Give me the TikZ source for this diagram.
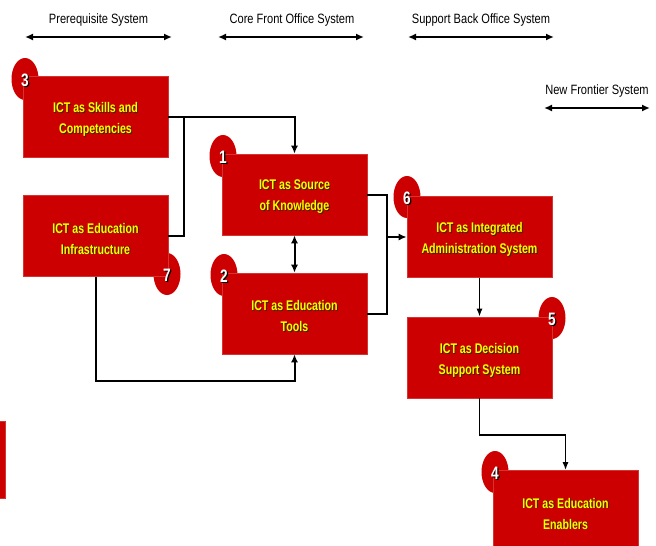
\documentclass[tikz,border=0pt]{standalone}
\usepackage{fontspec}
\setmainfont{Liberation Sans}[FakeStretch=0.82]
\newfontfamily\narrowf{Liberation Sans}[FakeStretch=0.76]
\usetikzlibrary{arrows.meta,shapes.geometric}
\definecolor{boxred}{HTML}{CC0000}
\definecolor{txtyellow}{HTML}{FFFF00}
\definecolor{shadowc}{HTML}{3A2600}
\newcommand\ictbox[5]{%
  \node[badge] (#1n) at (#4) {};
  \node[boxst] (#1) at (#2) {};
  \node[btxt,text=shadowc] at ([shift={(0.9,3.4)}]#1.center) {#3};
  \node[btxt,text=txtyellow] (#1t) at ([shift={(0,2.5)}]#1.center) {#3};
  \node[ntxt,text=black] at ([shift={(1.2,2.2)}]#1n.center) {#5};
  \node[ntxt,text=white] (#1num) at ([shift={(0,1)}]#1n.center) {#5};
}
\begin{document}
\begin{tikzpicture}[x=1pt,y=-1pt,
  boxst/.style={rectangle, fill=boxred, draw=boxred!80!white, line width=0.6pt,
    minimum width=145pt, minimum height=81pt, inner sep=0pt},
  badge/.style={ellipse, fill=boxred, draw=none, minimum width=27pt, minimum height=42pt, inner sep=0pt},
  btxt/.style={align=center, font=\narrowf\fontsize{14}{21}\selectfont\bfseries, inner sep=0pt},
  ntxt/.style={font=\narrowf\fontsize{18}{18}\selectfont\bfseries, inner sep=0pt},
  htxt/.style={font=\fontsize{13.5}{16}\selectfont, inner sep=0pt, text=black},
  harrow/.style={line width=2pt, {Latex[length=8pt,width=7pt]}-{Latex[length=8pt,width=7pt]}},
  conn/.style={line width=2pt},
  carrow/.style={line width=2pt, -{Latex[length=8pt,width=7pt]}},
  tarrow/.style={line width=1.5pt, -{Latex[length=8pt,width=6pt]}}
]
\useasboundingbox (0,0) rectangle (656,546);
\clip (0,0) rectangle (656,546);
\fill[white] (0,0) rectangle (656,546);

% header labels and ranges
\node[htxt] (h1) at (98.5,20.5) {Prerequisite System};
\node[htxt] (h2) at (292,20.5) {Core Front Office System};
\node[htxt] (h3) at (481,20.5) {Support Back Office System};
\node[htxt] (h4) at (597,91.5) {New Frontier System};
\coordinate (h1a) at (25,37);  \coordinate (h1b) at (172,37);
\coordinate (h2a) at (218,37); \coordinate (h2b) at (364,37);
\coordinate (h3a) at (408,37); \coordinate (h3b) at (554,37);
\coordinate (h4a) at (544,108); \coordinate (h4b) at (650,108);
\draw[harrow] (h1a) -- (h1b);
\draw[harrow] (h2a) -- (h2b);
\draw[harrow] (h3a) -- (h3b);
\draw[harrow] (h4a) -- (h4b);

% partial box at the left edge
\fill[boxred] (-20,421) rectangle (5,498);
\draw[boxred!80!white, line width=0.6pt] (-20,421) rectangle (5,498);

% boxes
\ictbox{b3}{95.5,117}{ICT as Skills and\\Competencies}{25,79}{3}
\ictbox{b1}{294.5,194.5}{ICT as Source\\of Knowledge}{223,156}{1}
\ictbox{b7}{95.5,236}{ICT as Education\\Infrastructure}{167,274}{7}
\ictbox{b2}{294.5,313.5}{ICT as Education\\Tools}{224,275}{2}
\ictbox{b6}{479.5,237}{ICT as Integrated\\Administration System}{407,197}{6}
\ictbox{b5}{479.5,357.5}{ICT as Decision\\Support System}{552,318}{5}
\ictbox{b4}{565.5,511}{ICT as Education\\Enablers}{495,472}{4}

% connectors
\coordinate (j1) at (184,117);
\coordinate (j2) at (387,237);
\draw[carrow] (b3.east) -| (b1.north);
\draw[conn] (b7.east) -| (j1);
\draw[line width=2pt, {Latex[length=8pt,width=7pt]}-{Latex[length=8pt,width=7pt]}] (b1.south) -- (b2.north);
\draw[carrow] (b7.south) -- ++(0,104) -| (b2.south);
\draw[conn] (b1.east) -| (j2);
\draw[conn] (b2.east) -| (j2);
\draw[carrow] (j2) -- (b6.west);
\draw[tarrow] (b6.south) -- (b5.north);
\draw[tarrow] (b5.south) -- ++(0,36.5) -| (b4.north);
\end{tikzpicture}
\end{document}
